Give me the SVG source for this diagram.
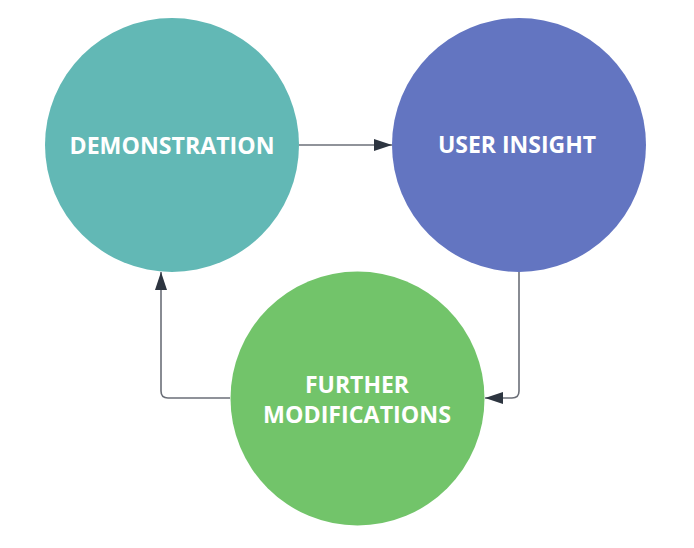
<svg xmlns="http://www.w3.org/2000/svg" width="694" height="548" viewBox="0 0 694 548">
<defs>
<style>
.lbl{font-family:"Open Sans","Liberation Sans",sans-serif;font-weight:700;font-size:24px;fill:#ffffff;text-anchor:middle}
.conn{fill:none;stroke:#6b6f78;stroke-width:1.6}
</style>
<marker id="arr" viewBox="0 0 18 12" refX="18" refY="6" markerWidth="18" markerHeight="12" markerUnits="userSpaceOnUse" orient="auto">
<path d="M0,0 L18,6 L0,12 Z" fill="#2d3540"/>
</marker>
</defs>
<rect width="694" height="548" fill="#ffffff"/>
<g id="connectors">
<path class="conn" d="M299,145 L392,145" marker-end="url(#arr)"/>
<path class="conn" d="M519,272 L519,391 Q519,398 512,398 L485,398" marker-end="url(#arr)"/>
<path class="conn" d="M230,398 L168,398 Q161,398 161,391 L161,272" marker-end="url(#arr)"/>
</g>
<g id="demonstration">
<circle cx="172" cy="145" r="127" fill="#62b8b5"/>
<text class="lbl" x="172" y="154" textLength="205" lengthAdjust="spacingAndGlyphs">DEMONSTRATION</text>
</g>
<g id="user-insight">
<circle cx="519" cy="145" r="127" fill="#6375c1"/>
<text class="lbl" x="517" y="153" textLength="158" lengthAdjust="spacingAndGlyphs">USER INSIGHT</text>
</g>
<g id="further-modifications">
<circle cx="357.5" cy="398.5" r="127" fill="#72c46a"/>
<text class="lbl" x="357" y="393" textLength="104" lengthAdjust="spacingAndGlyphs">FURTHER</text>
<text class="lbl" x="357" y="423" textLength="188" lengthAdjust="spacingAndGlyphs">MODIFICATIONS</text>
</g>
</svg>
